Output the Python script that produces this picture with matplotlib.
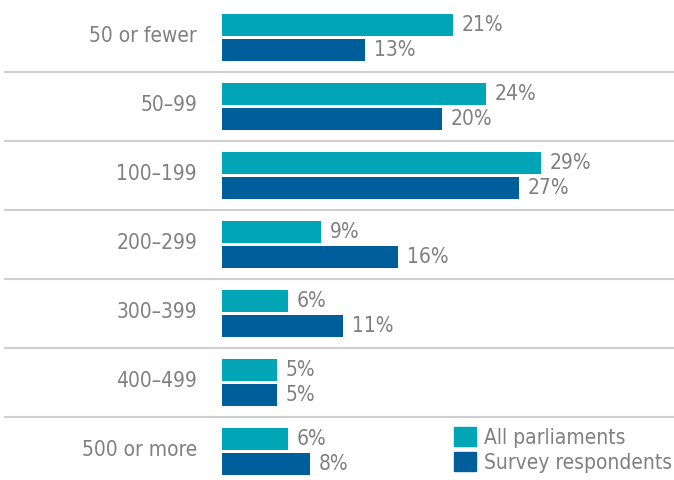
import matplotlib
matplotlib.use("Agg")
import matplotlib.pyplot as plt
from matplotlib.transforms import blended_transform_factory
from matplotlib.patches import Patch
import numpy as np

categories = ["50 or fewer", "50\u201399", "100\u2013199", "200\u2013299", "300\u2013399", "400\u2013499", "500 or more"]
all_parliaments = [21, 24, 29, 9, 6, 5, 6]
survey_respondents = [13, 20, 27, 16, 11, 5, 8]
series_names = ["All parliaments", "Survey respondents"]

TEAL = "#00A5B6"
BLUE = "#005F9A"
GRAY = "#808080"
SEP = "#CFCFCF"

plt.rcParams["font.family"] = ["DejaVu Sans"]
plt.rcParams["font.stretch"] = "condensed"
FS = 15

W, H = 674, 480
fig = plt.figure(figsize=(W / 100, H / 100), dpi=100)
left_px, right_px = 222, 674
top_px, bottom_px = 3, 486
ax = fig.add_axes([left_px / W, (H - bottom_px) / H, (right_px - left_px) / W, (bottom_px - top_px) / H])
scale = 11.0  # px per percent
ax.set_xlim(0, (right_px - left_px) / scale)
n = len(categories)
ax.set_ylim(n - 0.5, -0.5)
ax.axis("off")

y = np.arange(n)
off = 0.18
h = 0.32
ax.barh(y - off, all_parliaments, height=h, color=TEAL, clip_on=False)
ax.barh(y + off, survey_respondents, height=h, color=BLUE, clip_on=False)

for yi, v in zip(y - off, all_parliaments):
    ax.annotate(f"{v}%", (v, yi), xytext=(9, 0), textcoords="offset pixels",
                va="center", ha="left", color=GRAY, fontsize=FS, annotation_clip=False)
for yi, v in zip(y + off, survey_respondents):
    ax.annotate(f"{v}%", (v, yi), xytext=(9, 0), textcoords="offset pixels",
                va="center", ha="left", color=GRAY, fontsize=FS, annotation_clip=False)

for yi in y:
    ax.text(-25 / scale, yi - 0.02, categories[yi], ha="right", va="center", color=GRAY, fontsize=FS, clip_on=False)

tr = blended_transform_factory(fig.transFigure, ax.transData)
for yi in y[:-1]:
    ax.plot([5 / W, 1], [yi + 0.5, yi + 0.5], transform=tr, color=SEP, lw=1.5, clip_on=False)

handles = [Patch(color=TEAL), Patch(color=BLUE)]
hl = 22 / (FS * 100 / 72)
fig.legend(handles, series_names, loc="upper left", bbox_to_anchor=(454 / W, (H - 427) / H),
           frameon=False, fontsize=FS, handlelength=hl, handleheight=hl, labelspacing=0.2,
           handletextpad=0.4, borderpad=0, borderaxespad=0, labelcolor=GRAY)

fig.savefig("out.png", dpi=100)
